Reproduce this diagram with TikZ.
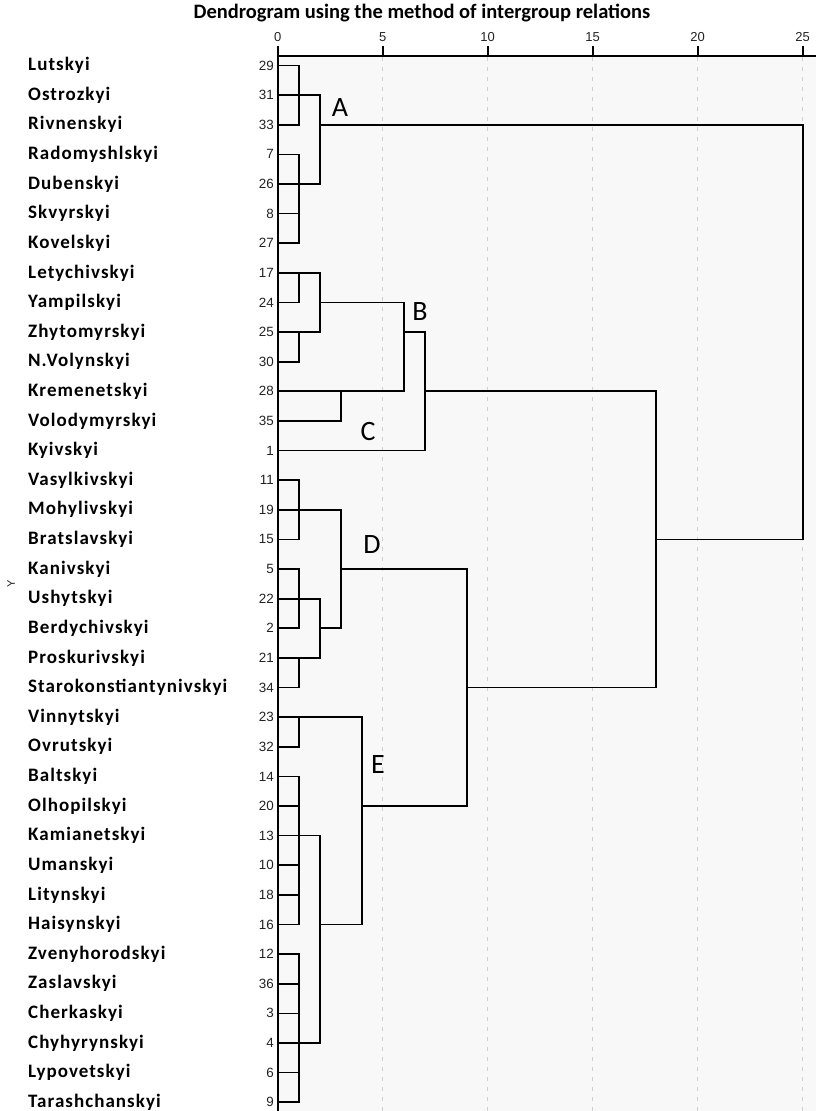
\documentclass[tikz,border=0pt]{standalone}
\usepackage{fontspec}
\setmainfont{Carlito}
\newfontfamily\namefont{Carlito}[LetterSpace=5.5]
\newfontfamily\numfont{Liberation Sans}
\definecolor{plotbg}{HTML}{F8F8F8}
\definecolor{gridc}{HTML}{CFCFCF}
\definecolor{numc}{HTML}{222222}
\tikzset{
  line/.style={draw=black, line width=1.7pt, line cap=rect},
  axisline/.style={draw=black, line width=1.6pt},
  gridline/.style={draw=gridc, line width=0.9pt, dash pattern=on 4pt off 6pt},
  namelab/.style={anchor=west, inner sep=0pt, font=\namefont\bfseries\fontsize{19}{19}\selectfont},
  numlab/.style={anchor=east, inner sep=0pt, text=numc, font=\numfont\fontsize{13.4}{13.4}\selectfont},
  ticklab/.style={inner sep=0pt, text=numc, font=\numfont\fontsize{13}{13}\selectfont},
  grouplab/.style={inner sep=0pt, font=\fontsize{28}{28}\selectfont},
}
\begin{document}
\begin{tikzpicture}[x=1pt,y=-1pt,
  declare function={R(\i)=65.5+(\i-1)*29.62; L(\v)=277.7+21.0*\v;}]
\useasboundingbox (0,0) rectangle (816,1111);
% plot area
\fill[plotbg] (277.7,56) rectangle (816,1111);
\foreach \v in {5,10,...,25} \draw[gridline] ({L(\v)},57) -- ({L(\v)},1111);
% title
\node[inner sep=0pt, font=\bfseries\fontsize{20.5}{20.5}\selectfont] (title) at (422,13) {Dendrogram using the method of intergroup relations};
% top axis
\draw[axisline] (276.9,56) -- (816,56);
\foreach \v in {0,5,...,25} {
  \draw[axisline] ({L(\v)},46) -- ({L(\v)},56);
  \node[ticklab] (t\v) at ({L(\v)},37) {\v};
}
\draw[line] (277.7,56) -- (277.7,1111);
% Y axis title
\node[rotate=90, inner sep=0pt, text=numc, font=\numfont\fontsize{11}{11}\selectfont] (ylab) at (11,584) {Y};
% leaves
\foreach \i/\n/\nm/\len in {
  1/29/Lutskyi/1, 2/31/Ostrozkyi/2, 3/33/Rivnenskyi/1, 4/7/Radomyshlskyi/1,
  5/26/Dubenskyi/2, 6/8/Skvyrskyi/1, 7/27/Kovelskyi/1, 8/17/Letychivskyi/2,
  9/24/Yampilskyi/1, 10/25/Zhytomyrskyi/2, 11/30/N.Volynskyi/1, 12/28/Kremenetskyi/6,
  13/35/Volodymyrskyi/3, 14/1/Kyivskyi/7, 15/11/Vasylkivskyi/1, 16/19/Mohylivskyi/3,
  17/15/Bratslavskyi/1, 18/5/Kanivskyi/1, 19/22/Ushytskyi/2, 20/2/Berdychivskyi/1,
  21/21/Proskurivskyi/2, 22/34/Starokonstiantynivskyi/1, 23/23/Vinnytskyi/4, 24/32/Ovrutskyi/1,
  25/14/Baltskyi/1, 26/20/Olhopilskyi/1, 27/13/Kamianetskyi/2, 28/10/Umanskyi/1,
  29/18/Litynskyi/1, 30/16/Haisynskyi/1, 31/12/Zvenyhorodskyi/1, 32/36/Zaslavskyi/1,
  33/3/Cherkaskyi/1, 34/4/Chyhyrynskyi/2, 35/6/Lypovetskyi/1, 36/9/Tarashchanskyi/1} {
  \node[namelab] (n\i) at (28,{R(\i)}) {\nm};
  \node[numlab] (k\i) at (274,{R(\i)}) {\n};
  \draw[line] ({L(0)},{R(\i)}) -- ({L(\len)},{R(\i)});
}
% vertical joins: level / from row / to row
\foreach \v/\a/\b in {1/1/3, 1/4/7, 2/2/5, 1/8/9, 1/10/11, 2/8/10, 3/12/13, 6/9/12, 7/10/14,
  1/15/17, 1/18/20, 1/21/22, 2/19/21, 3/16/20, 1/23/24, 1/25/30, 1/31/36, 2/27/34,
  4/23/30, 9/18/26, 18/12/22, 25/3/17}
  \draw[line] ({L(\v)},{R(\a)}) -- ({L(\v)},{R(\b)});
% horizontal links: from level / to level / row
\foreach \a/\b/\r in {2/25/3, 2/6/9, 6/7/10, 7/18/12, 2/3/20, 3/9/18, 2/4/30, 4/9/26, 9/18/22, 18/25/17}
  \draw[line] ({L(\a)},{R(\r)}) -- ({L(\b)},{R(\r)});
% group letters
\node[grouplab] (gA) at (340,108) {A};
\node[grouplab] (gB) at (420,312) {B};
\node[grouplab] (gC) at (368,432) {C};
\node[grouplab] (gD) at (372,545) {D};
\node[grouplab] (gE) at (378,765) {E};
\end{tikzpicture}
\end{document}
